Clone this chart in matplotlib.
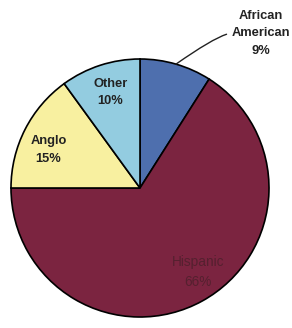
import matplotlib.pyplot as plt
import numpy as np

# data
groups = ['African\nAmerican', 'Hispanic', 'Anglo', 'Other']
shares = [9, 66, 15, 10]
colors = ['#4e6fae', '#7b2440', '#f8f0a0', '#93cce0']

W, H, DPI = 292, 328, 100
R = 129.0            # pie radius in px
CX, CY = 140, 188    # pie center in px (from top-left)

fig = plt.figure(figsize=(W / DPI, H / DPI), dpi=DPI)
ax = fig.add_axes([0, 0, 1, 1])
plt.rcParams['font.family'] = ['Liberation Sans', 'DejaVu Sans']

wedges, _ = ax.pie(shares, colors=colors, startangle=90, counterclock=False,
                   wedgeprops=dict(edgecolor='black', linewidth=1.2))

ax.set_xlim(-CX / R, (W - CX) / R)
ax.set_ylim(-(H - CY) / R, CY / R)
ax.set_aspect('equal')
ax.axis('off')

fs = 9.3
lsp = 1.6
txt = dict(ha='center', va='center', fontsize=fs, fontweight='bold',
           linespacing=lsp)
# labels inside the wedges
ax.text(-0.23, 0.74, 'Other\n10%', color='#222222', **txt)
ax.text(-0.71, 0.295, 'Anglo\n15%', color='#222222', **txt)
ax.text(0.45, -0.65, 'Hispanic\n66%', ha='center', va='center', fontsize=9.8,
        linespacing=1.5, color='#55202f')

# label outside with leader line
mid = np.deg2rad(90 - shares[0] / 100 * 360 / 2)
ax.annotate('African\nAmerican\n9%', xy=(np.cos(mid), np.sin(mid)),
            xytext=(0.94, 1.20), color='#222222',
            arrowprops=dict(arrowstyle='-', color='#222222', lw=1.0,
                            shrinkA=2, shrinkB=0,
                            connectionstyle='angle3,angleA=0,angleB=35',
                            relpos=(0.0, 0.5)), **txt)

fig.savefig('out.png', dpi=DPI)
